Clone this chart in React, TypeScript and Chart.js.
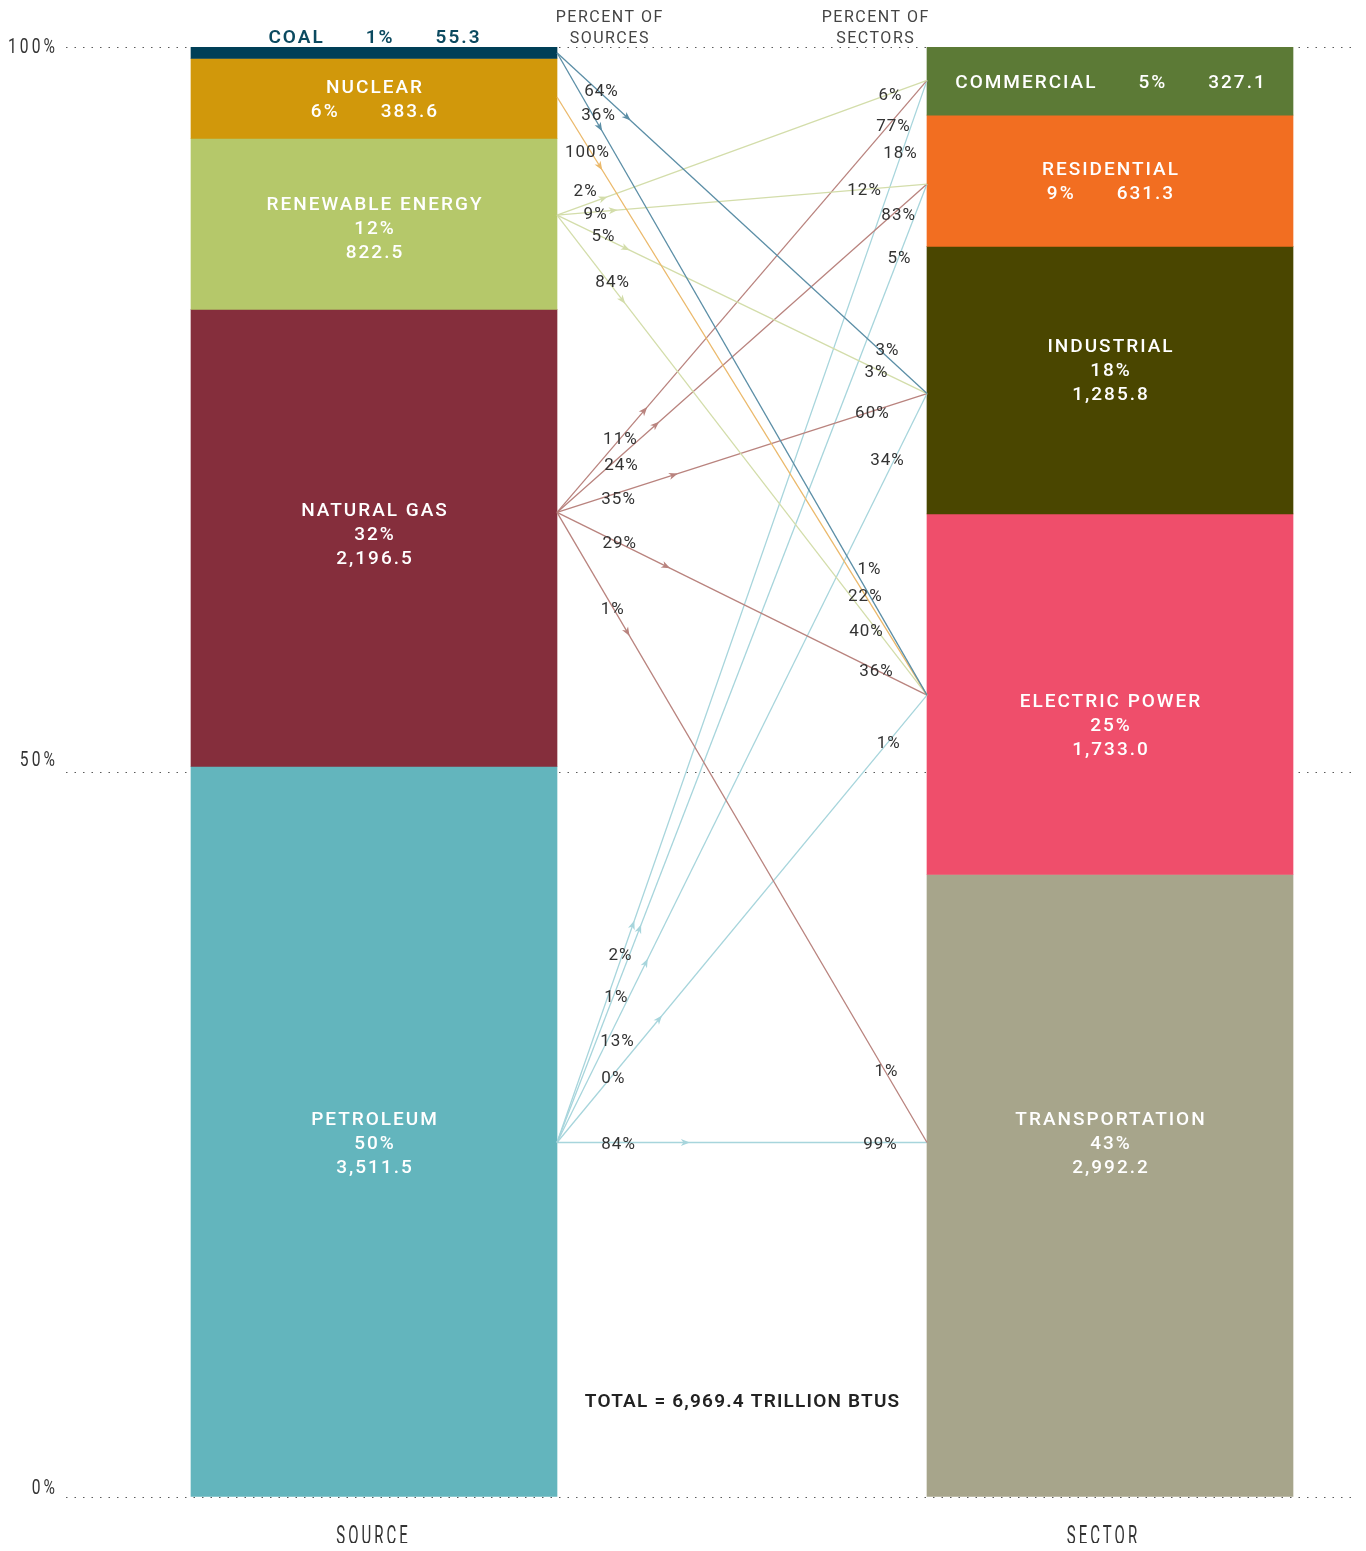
import React, { useEffect, useRef } from 'react';
import { Chart, registerables } from 'chart.js';

Chart.register(...registerables);

// ---------------- data ----------------
const sourceNames = ['COAL', 'NUCLEAR', 'RENEWABLE ENERGY', 'NATURAL GAS', 'PETROLEUM'];
const sourceValues = [55.3, 383.6, 822.5, 2196.5, 3511.5];
const sectorNames = ['COMMERCIAL', 'RESIDENTIAL', 'INDUSTRIAL', 'ELECTRIC POWER', 'TRANSPORTATION'];
const sectorValues = [327.1, 631.3, 1285.8, 1733.0, 2992.2];
// where the flow lines meet each bar (percent of the vertical axis)
const sourceAnchors = [99.6, 96.55, 88.4, 67.9, 24.45];
const sectorAnchors = [97.7, 90.55, 76.1, 55.3, 24.45];
// flows: source index -> sector index
const linkSource = [0, 0, 1, 2, 2, 2, 2, 3, 3, 3, 3, 3, 4, 4, 4, 4, 4];
const linkTarget = [2, 3, 3, 0, 1, 2, 3, 0, 1, 2, 3, 4, 0, 1, 2, 3, 4];
const linkPctOfSource = [64, 36, 100, 2, 9, 5, 84, 11, 24, 35, 29, 1, 2, 1, 13, 0, 84];
const linkPctOfSector = [3, 1, 22, 6, 12, 3, 40, 77, 83, 60, 36, 1, 18, 5, 34, 1, 99];
const yTickValues = [0, 50, 100];
const axisTitles = ['SOURCE', 'SECTOR'];
const totalLabelY = 6.7; // percent position of the total note

// ---------------- styles / layout ----------------
const sourceColors = ['#003f57', '#d1980b', '#b5c86a', '#852e3c', '#63b5bd'];
const sectorColors = ['#5c7a36', '#f26e21', '#4a4600', '#ef4e6b', '#a7a58b'];
const linkColorsBySource = ['#5b8ea6', '#ebb96b', '#d3ddaa', '#b9837e', '#a7d5dc'];
const sourceLabelMode = ['above', 'two', 'three', 'three', 'three'];
const sectorLabelMode = ['one', 'two', 'three', 'three', 'three'];
const sourceLabelDy = [0, 0, 3, -5, 11];
const sectorLabelDy = [0, 0, -11, 30, -43];
// [t of source label, dy, t of sector label, dy, t of arrow]
const linkLayout: number[][] = [
  [0.119, -4, 0.892, -8, 0.19],
  [0.111, -10, 0.843, -27, 0.116],
  [0.081, 5, 0.832, 0, 0.116],
  [0.076, -15, 0.9, 0, 0.125],
  [0.103, 1, 0.83, -1, 0.152],
  [0.124, -3, 0.862, 2, 0.186],
  [0.149, -6, 0.835, 14, 0.177],
  [0.17, -1, 0.908, 5, 0.236],
  [0.173, 8, 0.922, 4, 0.267],
  [0.165, 5, 0.851, 0, 0.315],
  [0.168, -1, 0.862, 0, 0.295],
  [0.149, 1, 0.889, -3, 0.19],
  [0.17, -8, 0.927, -6, 0.205],
  [0.159, 6, 0.924, 0, 0.223],
  [0.162, 19, 0.892, -16, 0.24],
  [0.151, 2, 0.895, 0, 0.276],
  [0.165, 0, 0.873, 0, 0.347],
];
const yTickLabelDy = [-10, -13, -1.5];
const axisTitleDx = [-2, -8];
const TEXT_DY = 2; // baseline correction so cap centres sit on target

const CANVAS_W = 1350;
const CANVAS_H = 1543;
const UNIT_PX = 736; // distance between the two bar centres
const BAR_PX = 366;
const BAR_HALF = BAR_PX / 2 / UNIT_PX;
const X_MIN = -308 / UNIT_PX;
const X_MAX = 1 + 248 / UNIT_PX;

const FONT = 'Roboto, "Noto Sans", sans-serif';

const total = sourceValues.reduce((a, b) => a + b, 0);
const fmtVal = (v: number) => v.toLocaleString('en-US', { minimumFractionDigits: 1, maximumFractionDigits: 1 });
const fmtPct = (v: number) => Math.round((v / total) * 100) + '%';

function floating(values: number[]) {
  const out: number[][] = [];
  let acc = 0;
  for (const v of values) {
    const hi = 100 - (acc / total) * 100;
    acc += v;
    const lo = 100 - (acc / total) * 100;
    out.push([lo, hi]);
  }
  return out;
}

function textWidth(ctx: CanvasRenderingContext2D, text: string, font: string, spacing: number) {
  ctx.save();
  ctx.font = font;
  (ctx as any).letterSpacing = '0px';
  const w = ctx.measureText(text).width + spacing * Math.max(0, text.length - 1);
  ctx.restore();
  return w;
}

function drawText(
  ctx: CanvasRenderingContext2D,
  text: string,
  x: number,
  y: number,
  font: string,
  color: string,
  spacing = 0,
  align: 'center' | 'left' | 'right' = 'center',
  sx = 1
) {
  const w = textWidth(ctx, text, font, spacing);
  ctx.save();
  ctx.font = font;
  ctx.fillStyle = color;
  ctx.textBaseline = 'middle';
  ctx.textAlign = 'left';
  (ctx as any).letterSpacing = spacing + 'px';
  ctx.translate(x, y + TEXT_DY);
  ctx.scale(sx, 1);
  const left = align === 'center' ? -w / 2 : align === 'right' ? -w : 0;
  ctx.fillText(text, left, 0);
  ctx.restore();
}

function drawRow(ctx: CanvasRenderingContext2D, parts: string[], cx: number, y: number, font: string, color: string, spacing: number, gap: number) {
  const widths = parts.map((p) => textWidth(ctx, p, font, spacing));
  const totalW = widths.reduce((a, b) => a + b, 0) + gap * (parts.length - 1);
  let x = cx - totalW / 2;
  parts.forEach((p, i) => {
    drawText(ctx, p, x, y, font, color, spacing, 'left');
    x += widths[i] + gap;
  });
}

function drawNodeLabel(ctx: CanvasRenderingContext2D, mode: string, name: string, value: number, cx: number, cy: number, top: number, color: string) {
  const font = `500 19px ${FONT}`;
  const sp = 2;
  const gap = 43;
  const pct = fmtPct(value);
  const val = fmtVal(value);
  if (mode === 'above') {
    drawRow(ctx, [name, pct, val], cx, top - 11, `600 19px ${FONT}`, color, sp, gap);
  } else if (mode === 'one') {
    drawRow(ctx, [name, pct, val], cx, cy, font, '#ffffff', sp, gap);
  } else if (mode === 'two') {
    drawText(ctx, name, cx, cy - 12, font, '#ffffff', sp);
    drawRow(ctx, [pct, val], cx, cy + 12, font, '#ffffff', sp, gap);
  } else {
    drawText(ctx, name, cx, cy - 24, font, '#ffffff', sp);
    drawText(ctx, pct, cx, cy, font, '#ffffff', sp);
    drawText(ctx, val, cx, cy + 24, font, '#ffffff', sp);
  }
}

const annotationPlugin = {
  id: 'flowAnnotations',
  afterDatasetsDraw(chart: any) {
    const { ctx, chartArea, scales } = chart;
    const yS = scales.y;
    const xS = scales.x;
    const nS = sourceNames.length;
    const nT = sectorNames.length;

    // bar labels
    for (let i = 0; i < nS; i++) {
      const el = chart.getDatasetMeta(i).data[0];
      const cy = (el.y + el.base) / 2 + sourceLabelDy[i];
      drawNodeLabel(ctx, sourceLabelMode[i], sourceNames[i], sourceValues[i], el.x, cy, Math.min(el.y, el.base), '#0b4a60');
    }
    for (let i = 0; i < nT; i++) {
      const el = chart.getDatasetMeta(nS + i).data[0];
      const cy = (el.y + el.base) / 2 + sectorLabelDy[i];
      drawNodeLabel(ctx, sectorLabelMode[i], sectorNames[i], sectorValues[i], el.x, cy, Math.min(el.y, el.base), '#ffffff');
    }

    // links: arrows and percentage labels
    const pFont = `400 17px ${FONT}`;
    for (let k = 0; k < linkSource.length; k++) {
      const meta = chart.getDatasetMeta(nS + nT + k);
      const p0 = meta.data[0];
      const p1 = meta.data[1];
      const [st, sdy, tt, tdy, at] = linkLayout[k];
      const lerp = (t: number) => ({ x: p0.x + (p1.x - p0.x) * t, y: p0.y + (p1.y - p0.y) * t });
      // arrow
      const a = lerp(at);
      const dx = p1.x - p0.x;
      const dy = p1.y - p0.y;
      const len = Math.hypot(dx, dy);
      const ux = dx / len;
      const uy = dy / len;
      const nx = -uy;
      const ny = ux;
      ctx.save();
      ctx.fillStyle = linkColorsBySource[linkSource[k]];
      ctx.beginPath();
      ctx.moveTo(a.x + ux * 4.5, a.y + uy * 4.5);
      ctx.lineTo(a.x - ux * 4.5 + nx * 3.5, a.y - uy * 4.5 + ny * 3.5);
      ctx.lineTo(a.x - ux * 2, a.y - uy * 2);
      ctx.lineTo(a.x - ux * 4.5 - nx * 3.5, a.y - uy * 4.5 - ny * 3.5);
      ctx.closePath();
      ctx.fill();
      ctx.restore();
      // labels
      const s = lerp(st);
      drawText(ctx, linkPctOfSource[k] + '%', s.x, s.y + sdy, pFont, '#333333', 1);
      const t = lerp(tt);
      drawText(ctx, linkPctOfSector[k] + '%', t.x, t.y + tdy, pFont, '#333333', 1);
    }

    // headers
    const srcEl = chart.getDatasetMeta(0).data[0];
    const secEl = chart.getDatasetMeta(nS).data[0];
    const srcRight = srcEl.x + srcEl.width / 2;
    const secLeft = secEl.x - secEl.width / 2;
    const hFont = `400 16px ${FONT}`;
    drawText(ctx, 'PERCENT OF', srcRight + 52, chartArea.top - 31, hFont, '#444444', 1.5);
    drawText(ctx, 'SOURCES', srcRight + 52, chartArea.top - 10, hFont, '#444444', 1.5);
    drawText(ctx, 'PERCENT OF', secLeft - 52, chartArea.top - 31, hFont, '#444444', 1.5);
    drawText(ctx, 'SECTORS', secLeft - 52, chartArea.top - 10, hFont, '#444444', 1.5);

    // total note
    drawText(
      ctx,
      'TOTAL = ' + fmtVal(total) + ' TRILLION BTUS',
      xS.getPixelForValue(0.5),
      yS.getPixelForValue(totalLabelY),
      `600 19px ${FONT}`,
      '#222222',
      1.2
    );

    // y tick labels (condensed)
    yTickValues.forEach((v, i) => {
      drawText(ctx, v + '%', chartArea.left - 11, yS.getPixelForValue(v) + yTickLabelDy[i], `400 20px ${FONT}`, '#333333', 4, 'right', 0.78);
    });

    // axis titles (condensed)
    [srcEl, secEl].forEach((el: any, i: number) => {
      drawText(ctx, axisTitles[i], el.x + axisTitleDx[i], chartArea.bottom + 39, `400 25px ${FONT}`, '#333333', 5, 'center', 0.6);
    });
  },
};

export default function App() {
  const ref = useRef<HTMLCanvasElement>(null);

  useEffect(() => {
    const srcRanges = floating(sourceValues);
    const secRanges = floating(sectorValues);
    const datasets: any[] = [];
    sourceNames.forEach((name, i) => {
      datasets.push({
        type: 'bar',
        label: name,
        data: [{ x: 0, y: srcRanges[i] }],
        backgroundColor: sourceColors[i],
        borderWidth: 0,
        barThickness: BAR_PX,
        grouped: false,
        order: 2,
      });
    });
    sectorNames.forEach((name, i) => {
      datasets.push({
        type: 'bar',
        label: name,
        data: [{ x: 1, y: secRanges[i] }],
        backgroundColor: sectorColors[i],
        borderWidth: 0,
        barThickness: BAR_PX,
        grouped: false,
        order: 2,
      });
    });
    linkSource.forEach((s, k) => {
      const t = linkTarget[k];
      datasets.push({
        type: 'line',
        label: sourceNames[s] + ' → ' + sectorNames[t],
        data: [
          { x: BAR_HALF, y: sourceAnchors[s] },
          { x: 1 - BAR_HALF, y: sectorAnchors[t] },
        ],
        borderColor: linkColorsBySource[s],
        borderWidth: 1.3,
        pointRadius: 0,
        tension: 0,
        fill: false,
        order: 1,
      });
    });

    const chart = new Chart(ref.current as HTMLCanvasElement, {
      type: 'bar',
      data: { datasets },
      options: {
        responsive: false,
        animation: false,
        layout: { padding: { top: 39, bottom: 54, left: 0, right: 0 } },
        plugins: { legend: { display: false }, tooltip: { enabled: false } },
        scales: {
          x: { type: 'linear', min: X_MIN, max: X_MAX, display: false, offset: false },
          y: {
            type: 'linear',
            min: 0,
            max: 100,
            afterBuildTicks: (axis: any) => {
              axis.ticks = yTickValues.map((v) => ({ value: v }));
            },
            afterFit: (axis: any) => {
              axis.width = 58;
            },
            ticks: { display: false },
            grid: { color: '#5a5a5a', lineWidth: 1, drawTicks: false },
            border: { display: false, dash: [1.5, 7] },
          },
        },
      } as any,
      plugins: [annotationPlugin],
    });
    return () => chart.destroy();
  }, []);

  return (
    <div style={{ width: CANVAS_W, height: CANVAS_H, marginBottom: -8 }}>
      <canvas ref={ref} width={CANVAS_W} height={CANVAS_H} style={{ display: 'block' }} />
    </div>
  );
}
